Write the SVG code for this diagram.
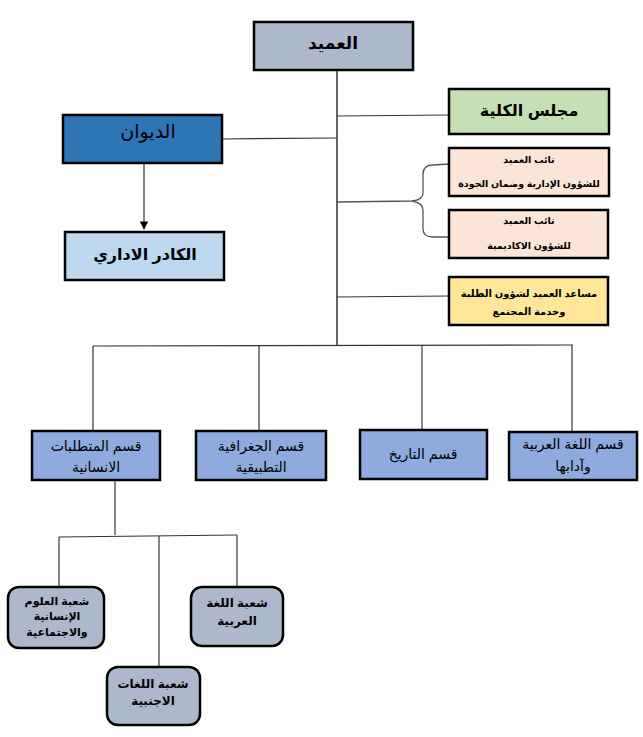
<svg xmlns="http://www.w3.org/2000/svg" width="643" height="737" viewBox="0 0 643 737">
<defs>
<style>
.box{stroke:#000;stroke-width:2.5}
.t{font-family:"Liberation Sans","DejaVu Sans",sans-serif;text-anchor:middle;fill:#000}
.b{font-weight:bold}
.ln{stroke:#333;stroke-width:1.2;fill:none}
.br{stroke:#555;stroke-width:1.3;fill:none}
</style>
<marker id="ar" viewBox="0 0 10 10" refX="9" refY="5" markerWidth="7" markerHeight="7" orient="auto">
<path d="M0,0 L10,5 L0,10 z" fill="#000"/>
</marker>
</defs>
<rect width="643" height="737" fill="#fff"/>
<g id="connectors">
<line class="ln" x1="337" y1="70" x2="337" y2="346" style="stroke:#000"/>
<line class="ln" x1="222" y1="139" x2="337" y2="138"/>
<line class="ln" x1="337" y1="116" x2="449" y2="115"/>
<path class="br" d="M337,202 L412,201 Q423,200 423,193 L423,174 Q423,165 433,165 L449,164"/>
<path class="br" d="M412,201 Q423,203 423,210 L423,229 Q423,237 433,237 L449,237"/>
<line class="ln" x1="337" y1="297" x2="449" y2="296"/>
<line class="ln" x1="144" y1="163" x2="144" y2="229" marker-end="url(#ar)"/>
<line class="ln" x1="93" y1="346" x2="573" y2="345"/>
<line class="ln" x1="93" y1="346" x2="93" y2="431"/>
<line class="ln" x1="259" y1="346" x2="259" y2="431"/>
<line class="ln" x1="422" y1="345" x2="422" y2="430"/>
<line class="ln" x1="572" y1="345" x2="572" y2="432"/>
<line class="ln" x1="115" y1="480" x2="115" y2="535"/>
<line class="ln" x1="59" y1="537" x2="237" y2="535"/>
<line class="ln" x1="59" y1="537" x2="59" y2="587"/>
<line class="ln" x1="159" y1="536" x2="159" y2="667"/>
<line class="ln" x1="237" y1="535" x2="237" y2="587"/>
</g>
<g id="dean">
<rect class="box" x="254" y="22" width="159" height="48" fill="#adb9ca"/>
<text class="t b" x="333" y="49" font-size="17">العميد</text>
</g>
<g id="diwan">
<rect class="box" x="63" y="115" width="159" height="48" fill="#2e75b6"/>
<text class="t" x="148" y="138" font-size="19" fill="#1a1a1a">الديوان</text>
</g>
<g id="kader">
<rect class="box" x="65" y="232" width="159" height="48" fill="#bdd7ee"/>
<text class="t b" x="145" y="260" font-size="16">الكادر الاداري</text>
</g>
<g id="council">
<rect class="box" x="449" y="89" width="160" height="45" fill="#c5e0b4"/>
<text class="t b" x="529" y="116" font-size="16">مجلس الكلية</text>
</g>
<g id="deputy1">
<rect class="box" x="449" y="148" width="160" height="48" fill="#fbe5d6"/>
<text class="t b" x="529" y="163" font-size="9.5">تائب العميد</text>
<text class="t b" x="529" y="187" font-size="9.5">للشؤون الإدارية وضمان الجودة</text>
</g>
<g id="deputy2">
<rect class="box" x="449" y="210" width="159" height="48" fill="#fbe5d6"/>
<text class="t b" x="529" y="224" font-size="9.5">تائب العميد</text>
<text class="t b" x="529" y="249" font-size="9.5">للشؤون الاكاديمية</text>
</g>
<g id="assistant">
<rect class="box" x="449" y="277" width="159" height="48" fill="#ffe699"/>
<text class="t b" x="529" y="297" font-size="10">مساعد العميد لشؤون الطلبة</text>
<text class="t b" x="529" y="315" font-size="10">وخدمة المجتمع</text>
</g>
<g id="dept-humanities">
<rect class="box" x="32" y="431" width="128" height="49" fill="#8faadc"/>
<text class="t" x="96" y="451" font-size="14">قسم المتطلبات</text>
<text class="t" x="96" y="472" font-size="14">الانسانية</text>
</g>
<g id="dept-geography">
<rect class="box" x="196" y="431" width="130" height="49" fill="#8faadc"/>
<text class="t" x="261" y="451" font-size="14">قسم الجغرافية</text>
<text class="t" x="261" y="472" font-size="14">التطبيقية</text>
</g>
<g id="dept-history">
<rect class="box" x="360" y="430" width="127" height="49" fill="#8faadc"/>
<text class="t" x="423" y="459" font-size="14">قسم التاريخ</text>
</g>
<g id="dept-arabic">
<rect class="box" x="509" y="432" width="128" height="48" fill="#8faadc"/>
<text class="t" x="573" y="449" font-size="14">قسم اللغة العربية</text>
<text class="t" x="573" y="471" font-size="14">وآدابها</text>
</g>
<g id="div-social">
<rect class="box" x="8" y="587" width="96" height="61" rx="11" fill="#adb9ca"/>
<text class="t b" x="57" y="605" font-size="11">شعبة العلوم</text>
<text class="t b" x="57" y="620" font-size="11">الإنسانية</text>
<text class="t b" x="57" y="636" font-size="11">والاجتماعية</text>
</g>
<g id="div-arabic">
<rect class="box" x="191" y="587" width="92" height="59" rx="11" fill="#adb9ca"/>
<text class="t b" x="237" y="607" font-size="12">شعبة اللغة</text>
<text class="t b" x="237" y="625" font-size="12">العربية</text>
</g>
<g id="div-foreign">
<rect class="box" x="107" y="667" width="93" height="58" rx="11" fill="#adb9ca"/>
<text class="t b" x="153" y="688" font-size="12">شعبة اللغات</text>
<text class="t b" x="153" y="705" font-size="12">الاجنبية</text>
</g>
</svg>
